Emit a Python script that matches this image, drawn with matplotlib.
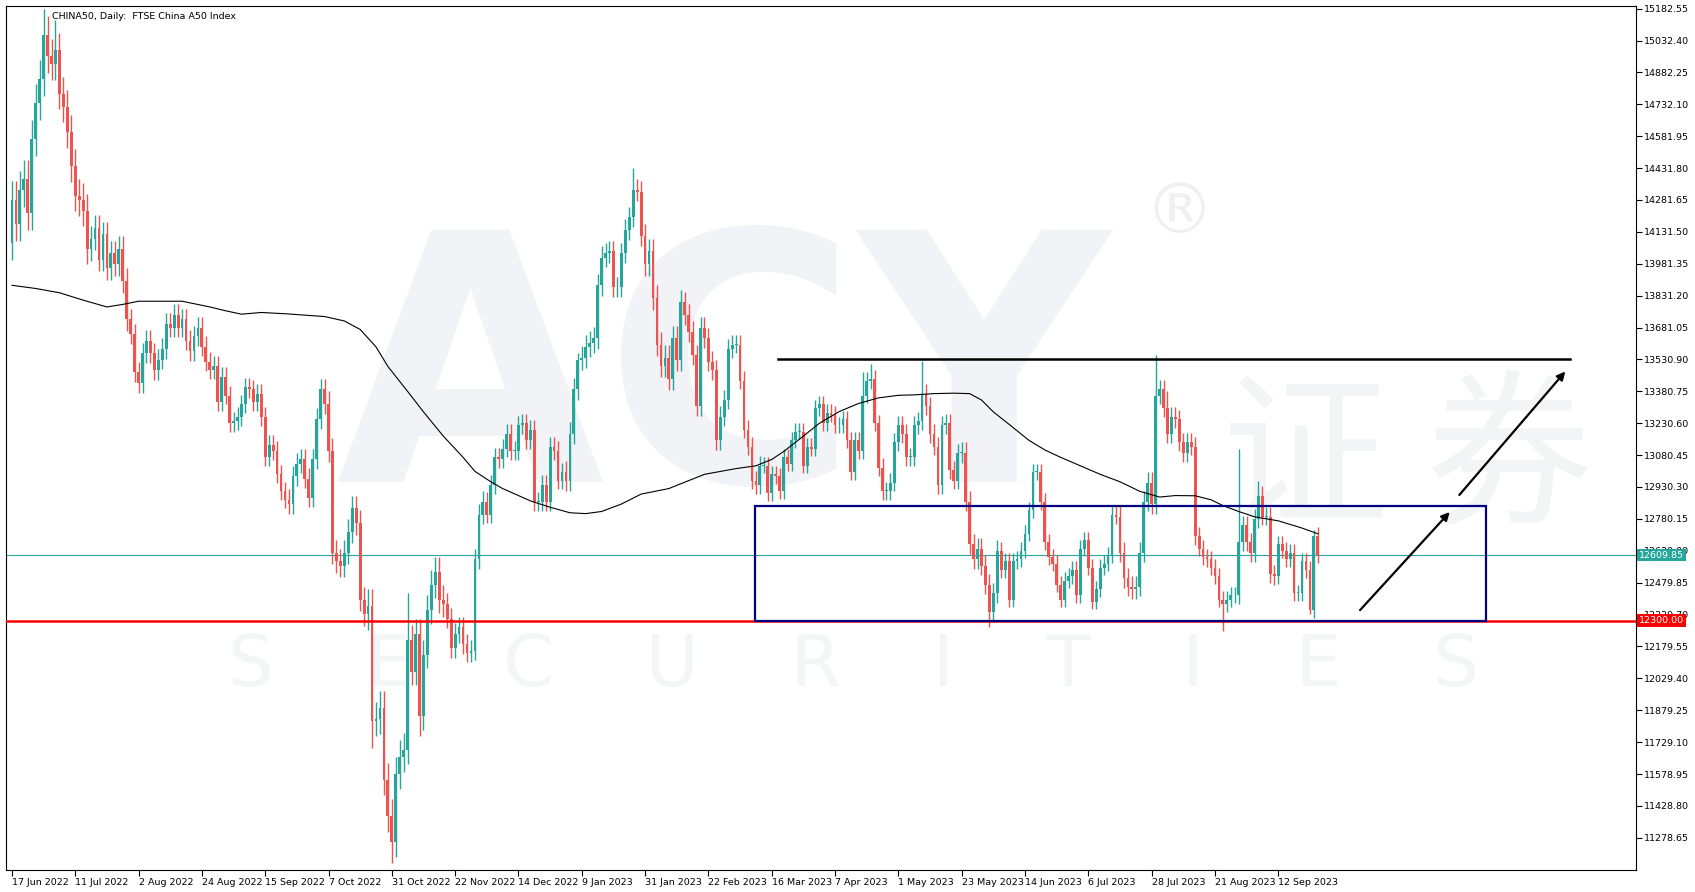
import matplotlib
matplotlib.use("Agg")
import matplotlib.pyplot as plt
import numpy as np

closes = [
14280,14170,14330,14380,14220,14570,14740,14850,15060,14960,
14920,14990,14780,14720,14600,14440,14300,14280,14230,14050,
14100,14150,14000,14120,13960,14030,13980,14050,13900,13720,
13650,13470,13420,13560,13620,13560,13480,13530,13580,13700,
13680,13740,13680,13720,13620,13570,13640,13680,13590,13520,
13480,13500,13330,13450,13360,13230,13240,13260,13320,13400,
13390,13330,13370,13260,13070,13130,13100,12990,12910,12870,
12850,12980,13040,13060,12970,12880,13060,13250,13390,13320,
13100,12620,12580,12560,12620,12720,12830,12760,12400,12330,
12370,11830,11840,11890,11550,11380,11260,11580,11660,11690,
12210,12060,12240,11850,12140,12350,12470,12530,12400,12380,
12310,12170,12240,12270,12190,12150,12160,12590,12800,12860,
12800,12940,13070,13060,13110,13180,13100,13100,13220,13230,
13150,13200,12860,12860,12940,12860,13120,13100,12960,13000,
12960,13180,13390,13530,13540,13590,13610,13630,13880,14010,
14030,14040,13870,13870,14030,14140,14200,14330,14320,14110,
13980,14040,13820,13600,13500,13540,13440,13630,13530,13800,
13740,13660,13550,13310,13680,13630,13520,13480,13150,13260,
13340,13580,13600,13600,13430,13200,13120,12960,12940,13030,
13030,12900,12990,12980,12910,13070,13040,13150,13190,13190,
13030,13120,13110,13300,13320,13230,13280,13270,13220,13220,
13250,13150,13000,13150,13100,13360,13430,13440,13230,13020,
12910,12910,12950,13140,13220,13180,13070,13070,13220,13240,
13370,13310,13180,13120,12940,13220,13230,13010,12960,13090,
13090,12860,12660,12590,12640,12560,12470,12340,12430,12630,
12540,12580,12400,12580,12590,12630,12710,12820,13000,13000,
12860,12670,12600,12570,12470,12400,12490,12510,12540,12420,
12640,12680,12550,12390,12450,12550,12570,12610,12800,12790,
12620,12500,12460,12450,12460,12620,12860,12950,12850,13360,
13390,13300,13180,13260,13250,13140,13090,13140,13120,12700,
12640,12600,12590,12550,12510,12400,12380,12400,12420,12420,
12670,12750,12670,12620,12780,12890,12790,12790,12520,12510,
12660,12630,12590,12620,12430,12430,12580,12540,12350,12700,
12610]
first_open = 14080
# typical wick size per 10-bar block
block_wick = [90,80,60,50,50,45,45,50,60,80,70,50,45,45,55,50,60,50,45,40,40,40,45,45,50,40,40,40,50,45,40,45,40,40]
# notable extremes (bar index: value)
spike_highs = {8: 15180, 11: 15130, 100: 12430, 157: 14433, 143: 13560, 215: 13470, 217: 13511, 230: 13525, 289: 13551, 292: 13380, 310: 13110, 315: 12960, 329: 12730}
spike_lows = {96: 11160, 91: 11700, 247: 12269, 306: 12250, 328: 12330, 103: 11760}

ma_idx = [0,6,12,18,24,28,32,38,43,50,54,58,63,70,75,79,84,88,92,95,100,104,109,114,117,121,124,128,131,136,141,145,149,154,159,166,175,183,188,192,195,200,204,209,214,219,224,228,233,238,242,245,248,252,257,261,265,270,275,280,285,290,294,299,303,306,310,314,320,326,330]
ma_val = [13880,13865,13845,13810,13778,13790,13805,13805,13805,13778,13760,13744,13752,13745,13738,13733,13712,13672,13590,13498,13380,13284,13170,13070,13004,12955,12923,12890,12865,12835,12809,12805,12815,12850,12897,12923,12990,13017,13030,13060,13097,13170,13230,13285,13324,13350,13362,13364,13370,13372,13370,13340,13284,13225,13150,13105,13070,13030,12990,12955,12910,12883,12890,12889,12870,12843,12815,12790,12771,12737,12710]

ytick_top = 15182.55
ytick_step = 150.15
n_ticks = 27
date_labels = ['17 Jun 2022', '11 Jul 2022', '2 Aug 2022', '24 Aug 2022', '15 Sep 2022', '7 Oct 2022',
               '31 Oct 2022', '22 Nov 2022', '14 Dec 2022', '9 Jan 2023', '31 Jan 2023', '22 Feb 2023',
               '16 Mar 2023', '7 Apr 2023', '1 May 2023', '23 May 2023', '14 Jun 2023', '6 Jul 2023',
               '28 Jul 2023', '21 Aug 2023', '12 Sep 2023']
label_every = 16
resistance = 13530.90
support = 12300.00
current = 12609.85
box = (187.7, 372.5, 12300, 12842)
arrows = [((340.2, 12341), (363.8, 12822)), ((365.3, 12883), (393.0, 13484))]

bull, bear = '#26a69a', '#ef5350'
fig = plt.figure(figsize=(16.95, 8.92), dpi=100)
ax = fig.add_axes([6/1695, 22/892, 1630/1695, 864/892])
n = len(closes)
opens = [first_open] + closes[:-1]

# watermark
ax.text(0.44, 0.56, 'ACY', transform=ax.transAxes, fontsize=250, color='#f1f3f7', ha='center', va='center',
        fontweight='bold', zorder=0)
ax.text(0.52, 0.235, 'S    E    C    U    R    I    T    I    E    S', transform=ax.transAxes,
        fontsize=52, color='#f4f5f6', ha='center', va='center', zorder=0)
ax.text(0.86, 0.47, '证 券', transform=ax.transAxes, fontsize=120, color='#f3f4f5', ha='center', va='center',
        family=['Noto Sans CJK SC', 'DejaVu Sans'], zorder=0)
ax.text(0.72, 0.76, '®', transform=ax.transAxes, fontsize=50, color='#f0f0f0', ha='center', va='center', zorder=0)

for i in range(n):
    o, c = opens[i], closes[i]
    w = block_wick[i // 10]
    hi = spike_highs.get(i, max(o, c) + w)
    lo = spike_lows.get(i, min(o, c) - w * 0.9)
    col = bull if c >= o else bear
    ax.vlines(i, lo, hi, color=col, lw=1, zorder=3)
    ax.bar(i, max(abs(c - o), 4), bottom=min(o, c), width=0.7, color=col, zorder=3, linewidth=0)

ax.plot(ma_idx, ma_val, color='black', lw=0.8, zorder=4)

ax.axhline(support, color='#ff0000', lw=1.8, zorder=5)
ax.axhline(current, color='#26a69a', lw=0.8, zorder=2)
ax.plot([193.7, 393.7], [resistance, resistance], color='black', lw=1.8, zorder=5)
ax.add_patch(plt.Rectangle((box[0], box[2]), box[1]-box[0], box[3]-box[2], fill=False,
                           edgecolor='#000080', lw=1.6, zorder=5))
for (a, b) in arrows:
    ax.annotate('', xy=b, xytext=a, arrowprops=dict(arrowstyle='-|>', color='black', lw=1.6,
                mutation_scale=12), zorder=6)

ax.set_xlim(-1.5, 410.4)
ax.set_ylim(11127, 15195)
ax.yaxis.tick_right()
yt = [ytick_top - k * ytick_step for k in range(n_ticks)]
ax.set_yticks(yt)
ax.set_yticklabels([f'{v:.2f}' for v in yt], fontsize=6.8)
ax.tick_params(axis='y', length=4, pad=2)
xt = [k * label_every for k in range(len(date_labels))]
ax.set_xticks(xt)
ax.set_xticklabels(date_labels, fontsize=6.8, ha='left')
ax.tick_params(axis='x', length=4, pad=2)
for s in ax.spines.values():
    s.set_linewidth(0.8)

for val, bg in [(current, '#26a69a'), (support, '#ff0000')]:
    ax.text(1.002, val, f'{val:.2f}', transform=ax.get_yaxis_transform(), fontsize=6.8, color='white',
            va='center', ha='left', bbox=dict(boxstyle='square,pad=0.2', fc=bg, ec='none'), zorder=10, clip_on=False)

ax.text(0.028, 0.993, 'CHINA50, Daily:  FTSE China A50 Index', transform=ax.transAxes, fontsize=6.8,
        va='top', ha='left')
fig.savefig('out.png', dpi=100)
